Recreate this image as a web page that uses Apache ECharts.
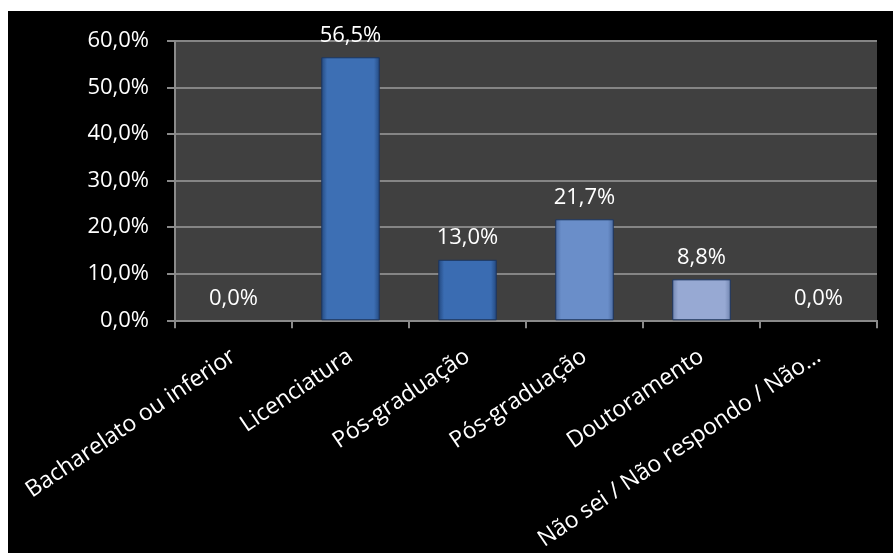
<!DOCTYPE html>
<html>
<head>
<meta charset="utf-8">
<script src="https://cdn.jsdelivr.net/npm/echarts@6/dist/echarts.min.js"></script>
<style>
html,body{margin:0;padding:0;background:#ffffff;width:893px;height:553px;overflow:hidden;}
#chart{position:absolute;left:8px;top:11px;width:885px;height:542px;background:#000000;}
</style>
</head>
<body>
<div id="chart"></div>
<script>
var categories = ['Bacharelato ou inferior', 'Licenciatura', 'Pós-graduação', 'Pós-graduação', 'Doutoramento', 'Não sei / Não respondo / Não…'];
var values = [0.0, 56.5, 13.0, 21.7, 8.8, 0.0];
var barColors = ['#3d6fb4', '#3d6fb4', '#3a6cb2', '#6a8ec9', '#97a9d3', '#97a9d3'];
var edgeColors = ['#24497f', '#24497f', '#22477d', '#4a6aa0', '#7085b0', '#7085b0'];
var yTicks = [0, 10, 20, 30, 40, 50, 60];

function fmt(v){ return v.toFixed(1).replace('.', ',') + '%'; }

var chart = echarts.init(document.getElementById('chart'), null, {renderer:'canvas'});
var data = values.map(function(v, i){
  return {
    value: v,
    itemStyle: {
      color: new echarts.graphic.LinearGradient(0, 0, 1, 0, [
        {offset: 0, color: edgeColors[i]},
        {offset: 0.1, color: barColors[i]},
        {offset: 0.9, color: barColors[i]},
        {offset: 1, color: edgeColors[i]}
      ]),
      borderColor: '#1c355e',
      borderWidth: v > 0 ? 1 : 0
    }
  };
});

chart.setOption({
  backgroundColor: '#000000',
  animation: false,
  grid: {left: 167, right: 16, top: 30, bottom: 231, show: true, backgroundColor: '#404040', borderWidth: 0},
  xAxis: {
    type: 'category',
    data: categories,
    axisLine: {lineStyle: {color: '#8a8a8a', width: 2}},
    axisTick: {show: true, length: 8, lineStyle: {color: '#8a8a8a', width: 2}},
    axisLabel: {
      interval: 0, rotate: 34, margin: 34,
      color: '#ffffff', fontFamily: 'Open Sans', fontSize: 23
    }
  },
  yAxis: {
    type: 'value',
    min: yTicks[0], max: yTicks[yTicks.length - 1], interval: 10,
    axisLine: {show: true, lineStyle: {color: '#8a8a8a', width: 2}},
    axisTick: {show: true, length: 8, lineStyle: {color: '#8a8a8a', width: 2}},
    splitLine: {show: true, lineStyle: {color: '#858585', width: 2}},
    axisLabel: {
      margin: 26, color: '#ffffff', fontFamily: 'Open Sans', fontSize: 22,
      formatter: function(v){ return fmt(v); }
    }
  },
  series: [{
    type: 'bar',
    data: data,
    barWidth: '50%',
    label: {
      show: true, position: 'top', distance: 11,
      color: '#ffffff', fontFamily: 'Open Sans', fontSize: 22,
      formatter: function(p){ return fmt(p.value); }
    }
  }]
});
</script>
</body>
</html>
